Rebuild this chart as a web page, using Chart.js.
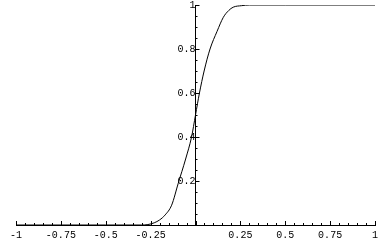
<!DOCTYPE html>
<html>
<head>
<meta charset="utf-8">
<script src="https://cdn.jsdelivr.net/npm/chart.js@4/dist/chart.umd.min.js"></script>
<style>
  html, body { margin: 0; padding: 0; background: #fff; }
  #wrap { width: 389px; height: 240px; }
</style>
</head>
<body>
<div id="wrap"><canvas id="myChart"></canvas></div>
<script>
// curve
const xVals = [-1, -0.5, -0.3, -0.265, -0.23, -0.2, -0.17, -0.133, -0.096, -0.055, -0.022, 0, 0.022, 0.048, 0.081, 0.12, 0.155, 0.185, 0.21, 0.257, 0.3, 0.5, 1];
const yVals = [0, 0, 0, 0.002, 0.01, 0.023, 0.045, 0.09, 0.19, 0.3, 0.4, 0.5, 0.6, 0.7, 0.8, 0.88, 0.944, 0.975, 0.99, 0.997, 1, 1, 1];

const xTicks = [-1, -0.75, -0.5, -0.25, 0.25, 0.5, 0.75, 1];
const yTicks = [0.2, 0.4, 0.6, 0.8, 1];

const tickFont = { family: 'Liberation Mono', size: 10 };

// mathematica style ticks pointing inward
const inwardTicks = {
    id: 'inwardTicks',
    afterDraw(chart) {
        const ctx = chart.ctx;
        const xs = chart.scales.x, ys = chart.scales.y;
        const x0 = xs.getPixelForValue(0);
        const y0 = ys.getPixelForValue(0);
        ctx.save();
        ctx.strokeStyle = '#000';
        ctx.lineWidth = 1;
        ctx.beginPath();
        for (let i = -20; i <= 20; i++) {
            const v = i * 0.05;
            const px = Math.round(xs.getPixelForValue(v)) + 0.5;
            const len = (i % 5 === 0) ? 4 : 2;
            ctx.moveTo(px, y0);
            ctx.lineTo(px, y0 - len);
        }
        for (let i = 0; i <= 20; i++) {
            const v = i * 0.05;
            const py = Math.round(ys.getPixelForValue(v)) + 0.5;
            const len = (i % 4 === 0) ? 4 : 2;
            ctx.moveTo(x0, py);
            ctx.lineTo(x0 + len, py);
        }
        ctx.stroke();
        ctx.restore();
    }
};

const ctx = document.getElementById('myChart');
new Chart(ctx, {
    type: 'line',
    data: {
        datasets: [{
            data: xVals.map((x, i) => ({ x: x, y: yVals[i] })),
            borderColor: '#000',
            borderWidth: 1,
            pointRadius: 0,
            cubicInterpolationMode: 'monotone',
            fill: false
        }]
    },
    options: {
        responsive: true,
        maintainAspectRatio: false,
        animation: false,
        layout: { padding: { left: 16, right: 14, top: 0, bottom: 0 } },
        plugins: { legend: { display: false }, tooltip: { enabled: false } },
        scales: {
            x: {
                type: 'linear',
                min: -1,
                max: 1,
                position: 'bottom',
                grid: { display: false, drawTicks: false },
                border: { display: true, color: '#000', width: 1 },
                afterBuildTicks: (scale) => { scale.ticks = xTicks.map(v => ({ value: v })); },
                afterFit: (scale) => { scale.height = 15; },
                ticks: {
                    font: tickFont,
                    color: '#000',
                    padding: 4,
                    maxRotation: 0,
                    autoSkip: false,
                    callback: (v) => String(v)
                }
            },
            y: {
                type: 'linear',
                min: 0,
                max: 1,
                position: { x: 0 },
                grid: { display: false, drawTicks: false },
                border: { display: true, color: '#000', width: 1 },
                afterBuildTicks: (scale) => { scale.ticks = yTicks.map(v => ({ value: v })); },
                afterFit: (scale) => { scale.paddingTop = 5; scale.width = 0; },
                ticks: {
                    font: tickFont,
                    color: '#000',
                    padding: 6,
                    autoSkip: false,
                    callback: (v) => String(v)
                }
            }
        }
    },
    plugins: [inwardTicks]
});
</script>
</body>
</html>
